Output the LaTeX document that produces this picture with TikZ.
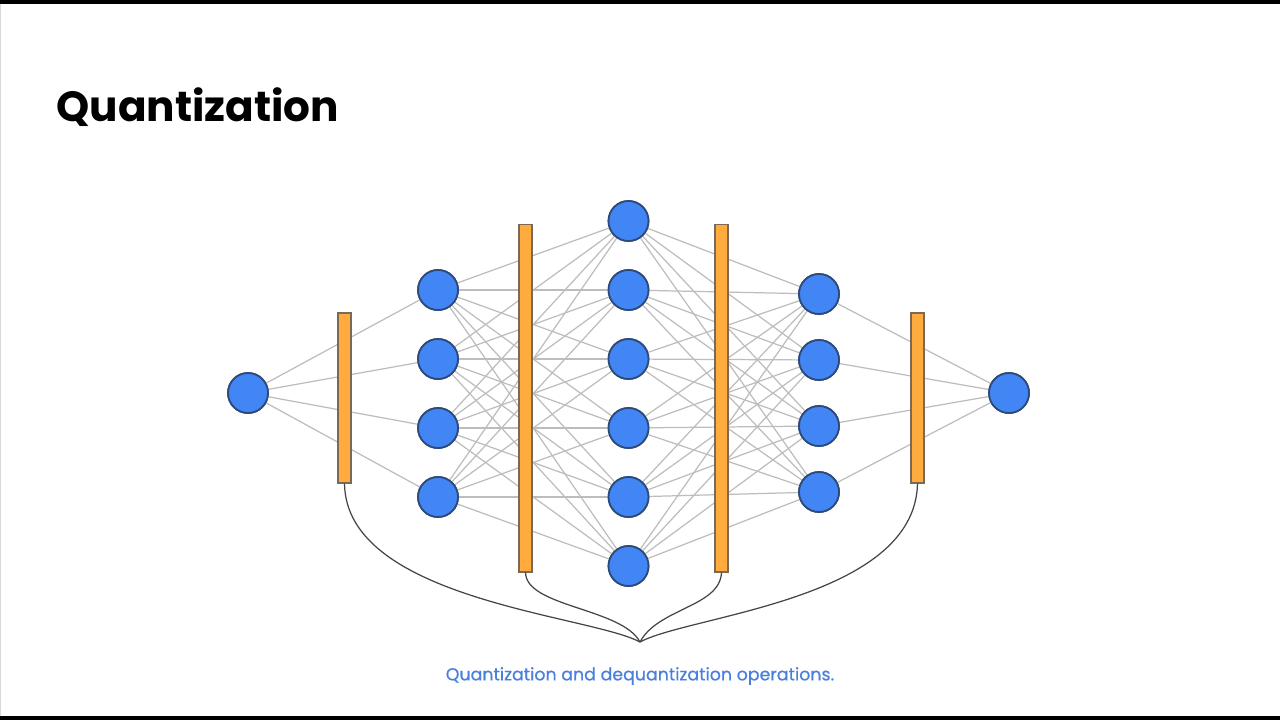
\documentclass[tikz,border=0pt]{standalone}
\usepackage{fontspec}
\setmainfont{Poppins}
\definecolor{nodeblue}{HTML}{4285F4}
\definecolor{nodeedge}{HTML}{2E4A78}
\definecolor{barfill}{HTML}{FFAB40}
\definecolor{baredge}{HTML}{7A6A55}
\definecolor{wire}{HTML}{BDBDBD}
\definecolor{bracec}{HTML}{454545}
\definecolor{capblue}{HTML}{4A80DC}
\tikzset{
  neuron/.style={circle, fill=nodeblue, draw=nodeedge, line width=1pt, minimum size=0.8cm, inner sep=0pt},
  qbar/.style={rectangle, fill=barfill, draw=baredge, line width=0.6pt, minimum width=0.26cm, inner sep=0pt},
  shortbar/.style={qbar, minimum height=3.4cm},
  tallbar/.style={qbar, minimum height=6.96cm},
  conn/.style={wire, line width=0.7pt},
  bracecurve/.style={bracec, line width=0.7pt}
}
\begin{document}
\begin{tikzpicture}[x=0.02cm, y=-0.02cm]
\useasboundingbox (0,0) rectangle (1280,720);
\fill[white] (0,0) rectangle (1280,720);
\fill[black] (0,0) rectangle (1280,4);
\fill[black] (0,716) rectangle (1280,720);
\draw[black!15, line width=0.5pt] (0.5,4) -- (0.5,716);

\node[anchor=base west, inner sep=0pt, font=\fontsize{24}{28}\selectfont\bfseries] (title) at (56,121.5) {Quantization};

% neurons
\node[neuron] (in) at (248,393) {};
\foreach \i/\y in {1/290,2/359,3/428,4/497} \node[neuron] (a\i) at (438,\y) {};
\foreach \i/\y in {1/221,2/290,3/359,4/428,5/497,6/566} \node[neuron] (b\i) at (628.5,\y) {};
\foreach \i/\y in {1/294,2/360,3/426,4/492} \node[neuron] (c\i) at (819,\y) {};
\node[neuron] (out) at (1009,393) {};

% connections
\foreach \i in {1,...,4} \draw[conn] (in) -- (a\i);
\foreach \i in {1,...,4} \foreach \j in {1,...,6} \draw[conn] (a\i) -- (b\j);
\foreach \j in {1,...,6} \foreach \k in {1,...,4} \draw[conn] (b\j) -- (c\k);
\foreach \k in {1,...,4} \draw[conn] (c\k) -- (out);

% redraw neurons on top of connections
\node[neuron] at (in) {};
\foreach \i in {1,...,4} \node[neuron] at (a\i) {};
\foreach \j in {1,...,6} \node[neuron] at (b\j) {};
\foreach \k in {1,...,4} \node[neuron] at (c\k) {};
\node[neuron] at (out) {};

% quantization bars
\node[shortbar] (q1) at (344.5,398) {};
\node[tallbar] (q2) at (525.5,398) {};
\node[tallbar] (q3) at (721.5,398) {};
\node[shortbar] (q4) at (917.5,398) {};

% brace
\coordinate (tip) at (640,642);
\draw[bracecurve] (q1.south) .. controls (346,600) and (590,615) .. (tip);
\draw[bracecurve] (q2.south) .. controls (526,607) and (622,608) .. (tip);
\draw[bracecurve] (q3.south) .. controls (720,607) and (658,608) .. (tip);
\draw[bracecurve] (q4.south) .. controls (915,600) and (690,615) .. (tip);

\node[font=\fontsize{9.9}{12}\selectfont\addfontfeature{FakeBold=0.6}, text=capblue] (caption) at (640,676) {Quantization and dequantization operations.};
\end{tikzpicture}
\end{document}
